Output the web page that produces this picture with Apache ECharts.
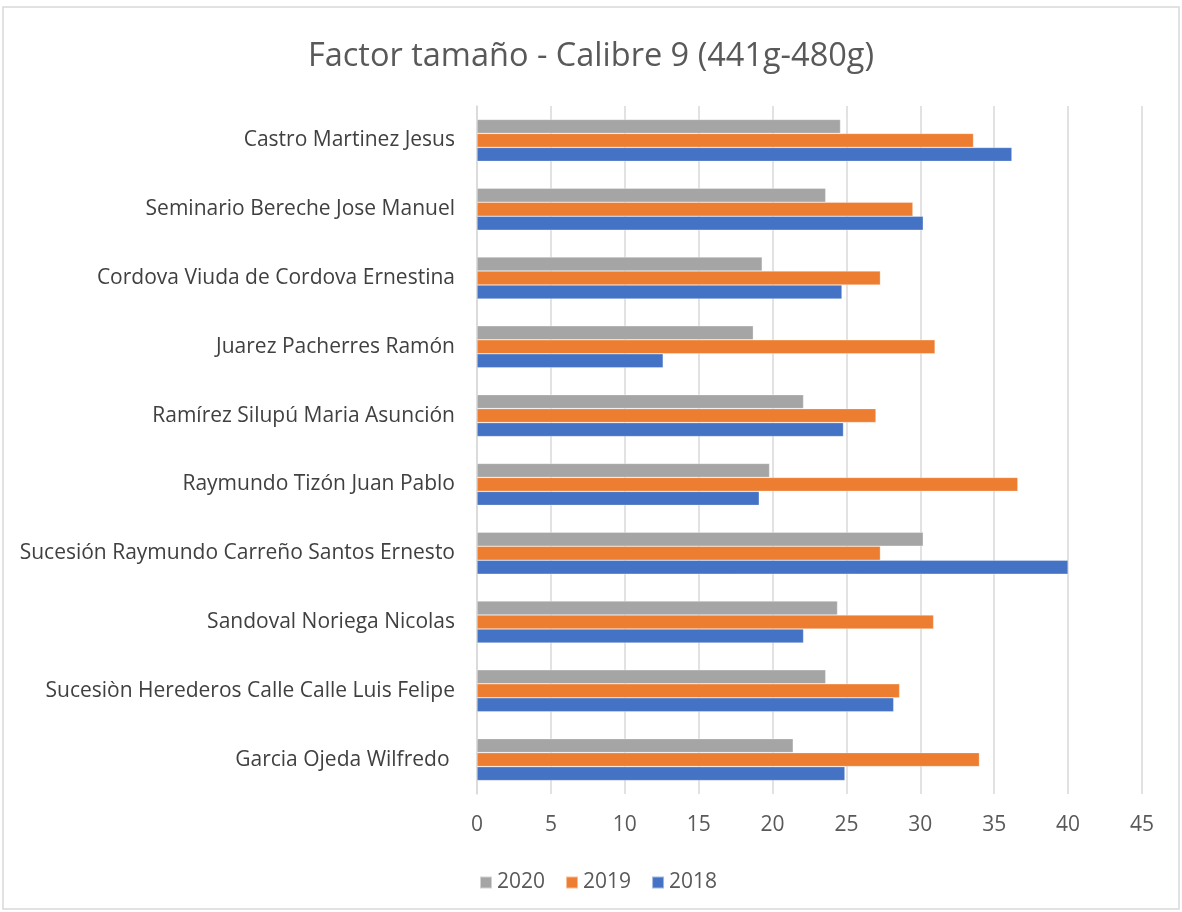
<!DOCTYPE html>
<html>
<head>
<meta charset="utf-8">
<script src="https://cdn.jsdelivr.net/npm/echarts@6/dist/echarts.min.js"></script>
<style>
  html, body { margin: 0; padding: 0; background: #fff; }
  #chart { width: 1182px; height: 912px; }
</style>
</head>
<body>
<div id="chart"></div>
<script>
// categories, bottom to top (same order as the spreadsheet)
const categories = [
  "Garcia Ojeda Wilfredo ",
  "Sucesiòn Herederos Calle Calle Luis Felipe",
  "Sandoval Noriega Nicolas",
  "Sucesión Raymundo Carreño Santos Ernesto",
  "Raymundo Tizón Juan Pablo",
  "Ramírez Silupú Maria Asunción",
  "Juarez Pacherres Ramón",
  "Cordova Viuda de Cordova Ernestina",
  "Seminario Bereche Jose Manuel",
  "Castro Martinez Jesus"
];
const values2018 = [24.9, 28.2, 22.1, 40.0, 19.1, 24.8, 12.6, 24.7, 30.2, 36.2];
const values2019 = [34.0, 28.6, 30.9, 27.3, 36.6, 27.0, 31.0, 27.3, 29.5, 33.6];
const values2020 = [21.4, 23.6, 24.4, 30.2, 19.8, 22.1, 18.7, 19.3, 23.6, 24.6];
const xTicks = { min: 0, max: 45, interval: 5 };

const chart = echarts.init(document.getElementById("chart"));

const txt = "#595959";
const font = "'Open Sans', sans-serif";

function barSeries(name, data, color) {
  return {
    name: name,
    type: "bar",
    data: data,
    barWidth: 14,
    barGap: "0%",
    itemStyle: { color: color, borderColor: "rgba(255,255,255,0.5)", borderWidth: 0.6 }
  };
}

chart.setOption({
  animation: false,
  title: {
    text: "Factor tamaño - Calibre 9 (441g-480g)",
    left: "center",
    top: 35,
    textStyle: { color: txt, fontSize: 32.5, fontWeight: "normal", fontFamily: font }
  },
  legend: {
    data: ["2020", "2019", "2018"],
    left: 474,
    top: 867,
    itemWidth: 12,
    itemHeight: 12,
    itemGap: 20,
    icon: "rect",
    textStyle: { color: txt, fontSize: 21, fontFamily: font }
  },
  grid: { left: 477, right: 40, top: 106, bottom: 118, containLabel: false },
  xAxis: {
    type: "value",
    min: xTicks.min,
    max: xTicks.max,
    interval: xTicks.interval,
    axisLine: { show: false },
    axisTick: { show: false },
    splitLine: { lineStyle: { color: "#d9d9d9", width: 1.5 } },
    axisLabel: { color: txt, fontSize: 21, fontFamily: font, margin: 21 }
  },
  yAxis: {
    type: "category",
    data: categories,
    axisLine: { show: true, lineStyle: { color: "#d9d9d9", width: 1.5 } },
    axisTick: { show: false },
    axisLabel: { color: "#404040", fontSize: 21, fontFamily: font, margin: 22 }
  },
  graphic: [{
    type: "rect",
    shape: { x: 3, y: 7, width: 1176, height: 902 },
    style: { fill: "none", stroke: "#d9d9d9", lineWidth: 1.5 },
    silent: true
  }],
  // series order top-to-bottom inside each group: 2020, 2019, 2018
  series: [
    barSeries("2020", values2020, "#A5A5A5"),
    barSeries("2019", values2019, "#ED7D31"),
    barSeries("2018", values2018, "#4472C4")
  ]
});
</script>
</body>
</html>
